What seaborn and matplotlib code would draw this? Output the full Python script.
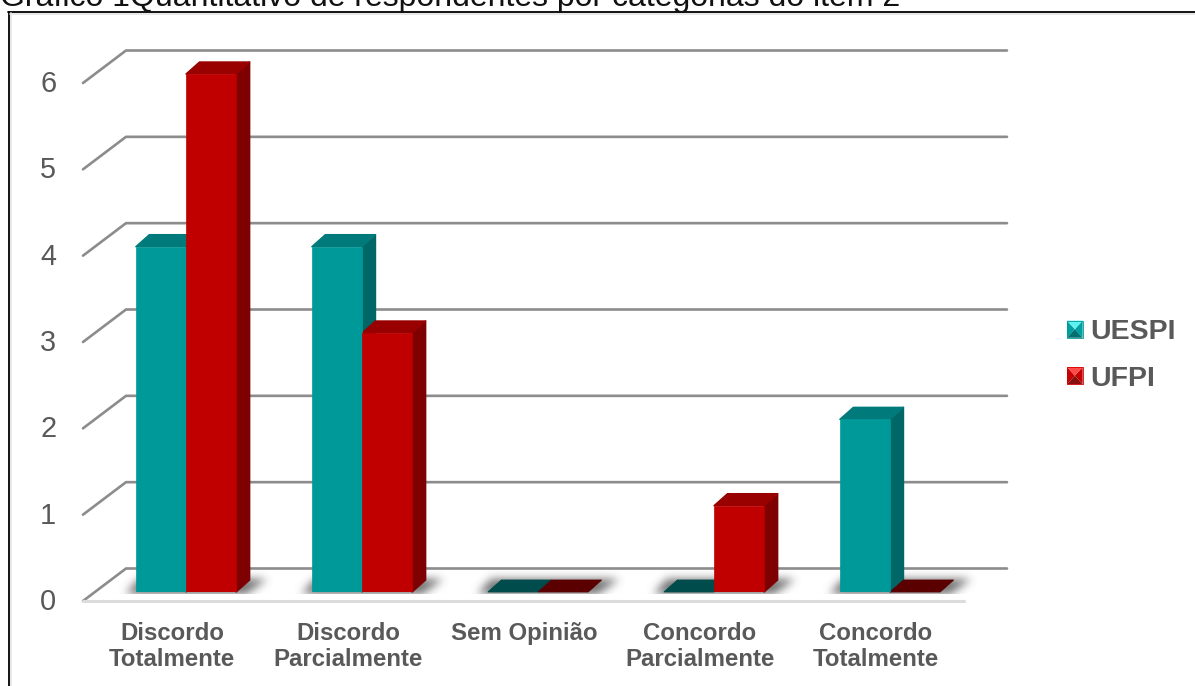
import numpy as np
import pandas as pd
import matplotlib
matplotlib.use("Agg")
import matplotlib.pyplot as plt
from matplotlib.legend_handler import HandlerBase
from matplotlib.lines import Line2D
from matplotlib.patches import Polygon
from matplotlib.path import Path
from matplotlib.transforms import Affine2D
import seaborn as sns

# Survey counts per answer category
categories = ["Discordo\nTotalmente", "Discordo\nParcialmente", "Sem Opinião",
              "Concordo\nParcialmente", "Concordo\nTotalmente"]
uespi = [4, 4, 0, 0, 2]
ufpi = [6, 3, 0, 1, 0]
series_names = ["UESPI", "UFPI"]
y_ticks = [0, 1, 2, 3, 4, 5, 6]
title = "Gráfico 1Quantitativo de respondentes por categorias do item 2"

W, H = 1195, 686
TEXT = "#595959"
FRONT = {"UESPI": "#009999", "UFPI": "#C00000"}
TOP = {"UESPI": "#007A7A", "UFPI": "#990000"}
SIDE = {"UESPI": "#006666", "UFPI": "#7F0000"}
FLAT = {"UESPI": "#004C4C", "UFPI": "#5A0000"}
BEVEL = {"UESPI": ("#5FF0F0", "#009A9A", "#007070", "#00A0A0"),
         "UFPI": ("#FF4A4A", "#D00000", "#8A1010", "#C40000")}

sns.set_theme(style="white")
plt.rcParams["font.family"] = ["Liberation Sans", "DejaVu Sans"]

fig = plt.figure(figsize=(W / 100, H / 100), dpi=100, facecolor="white")
# Plot area spans the bar floor: 880 px wide, 518 px for six units
ax = fig.add_axes([98 / W, (H - 592) / H, 880 / W, 518 / H], facecolor="none")

df = pd.DataFrame({
    "categoria": categories * 2,
    "universidade": [series_names[0]] * 5 + [series_names[1]] * 5,
    "valor": uespi + ufpi,
})
sns.barplot(data=df, x="categoria", y="valor", hue="universidade", palette=FRONT,
            hue_order=series_names, width=0.57, saturation=1, ax=ax, zorder=5,
            legend=False)

ax.set_xlim(-0.5, 4.5)
ax.set_ylim(0, 6)
ax.set_xlabel("")
ax.set_ylabel("")
ax.set_yticks(y_ticks)
sns.despine(ax=ax, left=True, bottom=True, top=True, right=True)

PX_X = 176.0   # pixels per category
PX_Y = 518 / 6  # pixels per unit


def shifted(x, y, dx=0.0, dy=0.0):
    """Data point moved by a pixel offset, y pixels pointing up."""
    return x + dx / PX_X, y + dy / PX_Y


# Wall gridlines with their slanted floor-edge returns
for v in y_ticks:
    pts = [shifted(-0.5, v, -15, -9), shifted(-0.5, v, 28, 23.5), shifted(4.5, v, 29, 23.5)]
    xs, ys = zip(*pts)
    ax.plot(xs, ys, color="#8C8C8C", lw=1.9, clip_on=False, zorder=1, solid_capstyle="round")

# Pale front edge of the floor, laid over the slanted stroke at zero
fx, fy = zip(shifted(-0.5, 0, -15, -9), shifted(4.5, 0, -14, -9))
ax.plot(fx, fy, color="#DCDCDC", lw=2.2, clip_on=False, zorder=2)

# Soft floor shadow under each group, rasterised then blurred
groups = [ax.containers[0], ax.containers[1]]
canvas = np.zeros((H, W))
yy, xx = np.mgrid[0:H, 0:W]
grid_pts = np.column_stack([xx.ravel() + 0.5, yy.ravel() + 0.5])
to_px = ax.transData
for left_bar, right_bar in zip(*groups):
    x0 = to_px.transform((left_bar.get_x(), 0))
    x1 = to_px.transform((right_bar.get_x() + right_bar.get_width(), 0))
    ax0, ax1 = x0[0], x1[0]
    base = H - x0[1]
    poly = Path([(ax0 - 10, base + 2), (ax0 + 3, base - 13), (ax1 + 31, base - 13),
                 (ax1 + 10, base + 2)])
    canvas[poly.contains_points(grid_pts).reshape(H, W)] = 1.0
kernel = np.exp(-0.5 * (np.arange(-14, 15) / 4.5) ** 2)
kernel /= kernel.sum()
blurred = np.apply_along_axis(lambda r: np.convolve(r, kernel, mode="same"), 0, canvas)
blurred = np.apply_along_axis(lambda r: np.convolve(r, kernel, mode="same"), 1, blurred)
blurred[int(base) + 2:, :] = 0
rgba = np.zeros((H, W, 4))
rgba[..., :3] = 0.4
rgba[..., 3] = np.clip(blurred * 0.95, 0, 1)
shadow_ax = fig.add_axes([0, 0, 1, 1], facecolor="none", zorder=-1)
shadow_ax.imshow(rgba, extent=(0, W, H, 0), aspect="auto", interpolation="bilinear")
shadow_ax.axis("off")
ax.set_zorder(1)

# Extruded top and side faces, derived from each front rectangle
DX, DY = 13.5, 12
for name, container in zip(series_names, groups):
    for bar in container:
        x, w, h = bar.get_x(), bar.get_width(), bar.get_height()
        bar.set_edgecolor(FRONT[name])
        bar.set_linewidth(0.5)
        bar.set_joinstyle("round")
        top_face = [shifted(x, h), shifted(x + w, h), shifted(x + w, h, DX, DY), shifted(x, h, DX, DY)]
        side_face = [shifted(x + w, 0), shifted(x + w, 0, DX, DY), shifted(x + w, h, DX, DY), shifted(x + w, h)]
        if h == 0:
            bar.set_visible(False)
            ax.add_patch(Polygon(top_face, closed=True, fc=FLAT[name], ec=FLAT[name], lw=0.6,
                                 clip_on=False, zorder=4))
        else:
            ax.add_patch(Polygon(side_face, closed=True, fc=SIDE[name], ec=SIDE[name], lw=1.0,
                                 joinstyle="round", clip_on=False, zorder=4))
            ax.add_patch(Polygon(top_face, closed=True, fc=TOP[name], ec=TOP[name], lw=1.0,
                                 joinstyle="round", clip_on=False, zorder=4))

# Tick labels sit in front of the floor edge, so nudge them off their ticks
ax.tick_params(axis="y", length=0, pad=30, labelsize=20.8, labelcolor=TEXT)
ax.tick_params(axis="x", length=0, pad=21.5, labelsize=17.3, labelcolor=TEXT)
for lab in ax.get_yticklabels():
    lab.set_transform(lab.get_transform() + Affine2D().translate(0, -7))
for lab in ax.get_xticklabels():
    lab.set_fontweight("bold")
    lab.set_linespacing(1.17)
    lab.set_transform(lab.get_transform() + Affine2D().translate(-14, 0))


class PyramidHandler(HandlerBase):
    """Legend key shaped as a small bevelled square."""

    def create_artists(self, legend, orig, xd, yd, width, height, fontsize, trans):
        light, mid, dark, side = BEVEL[orig.get_label()]
        x0, y0 = -xd, -yd
        x1, y1 = x0 + width, y0 + height
        cx, cy = (x0 + x1) / 2, (y0 + y1) / 2
        tris = [
            ([(x0, y0), (x0, y1), (cx, cy)], side),
            ([(x1, y0), (x1, y1), (cx, cy)], side),
            ([(x0, y0), (x1, y0), (cx, cy)], dark),
            ([(x0, y1), (x1, y1), (cx, cy)], light),
        ]
        artists = [Polygon(p, closed=True, fc=c, ec="none", transform=trans) for p, c in tris]
        artists.append(Polygon([(x0, y0), (x1, y0), (x1, y1), (x0, y1)], closed=True, fc="none",
                               ec=mid, lw=0.6, transform=trans))
        return artists


handles = [Line2D([], [], label=n) for n in series_names]
fig.legend(handles=handles, labels=series_names, handler_map={Line2D: PyramidHandler()},
           loc="center left", bbox_to_anchor=(1067 / W, 1 - 355.5 / H), frameon=False,
           prop={"weight": "bold", "size": 20.5}, labelcolor=TEXT,
           handlelength=0.55, handleheight=0.55, handletextpad=0.25, labelspacing=0.72,
           borderpad=0, borderaxespad=0)

# Title clipped by the upper page edge, above a framed chart
fig.text(0 / W, 1 - 6 / H, title, fontsize=23, color="#111111", ha="left", va="baseline")
fig.add_artist(Line2D([8.5 / W, 8.5 / W], [0, 1 - 11.5 / H], color="black", lw=1.3))
fig.add_artist(Line2D([8 / W, 1], [1 - 11.5 / H, 1 - 11.5 / H], color="black", lw=1.3))
fig.add_artist(Line2D([10 / W, 1], [1 - 13.5 / H, 1 - 13.5 / H], color="#E4E4E4", lw=1.2))
fig.add_artist(Line2D([10.5 / W, 10.5 / W], [0, 1 - 13 / H], color="#E4E4E4", lw=1.2))

fig.savefig("out.png", dpi=100, facecolor="white")
